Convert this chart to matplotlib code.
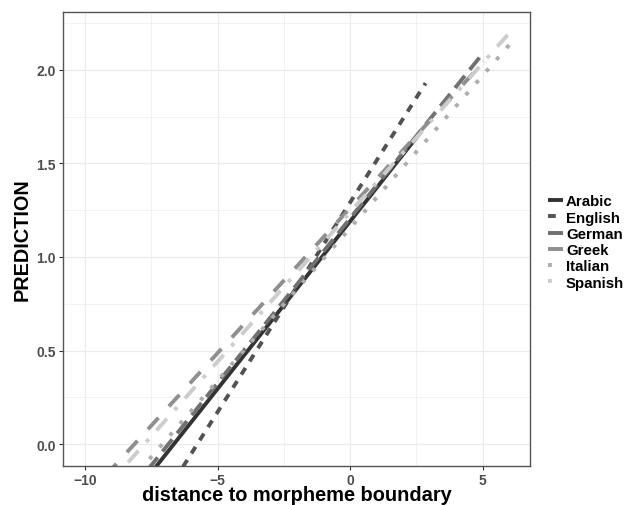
import matplotlib
matplotlib.use('Agg')
import matplotlib.pyplot as plt
from matplotlib.ticker import MultipleLocator

plt.rcParams['font.family'] = ['Liberation Sans', 'DejaVu Sans']

# Data: each language's fitted line, given by its two end points
languages = ['Arabic', 'English', 'German', 'Greek', 'Italian', 'Spanish']
x_start = [-10.0, -10.0, -10.0, -10.0, -10.0, -10.0]
y_start = [-0.600, -0.949, -0.554, -0.289, -0.476, -0.357]
x_end = [2.70, 2.85, 4.95, 5.05, 6.00, 6.00]
y_end = [1.673, 1.929, 2.077, 2.044, 2.132, 2.195]

x_ticks = [-10, -5, 0, 5]
x_tick_labels = ['\u221210', '\u22125', '0', '5']
y_ticks = [0.0, 0.5, 1.0, 1.5, 2.0]
y_tick_labels = ['0.0', '0.5', '1.0', '1.5', '2.0']

colors = ['#333333', '#525252', '#707070', '#8F8F8F', '#ADADAD', '#CCCCCC']
styles = ['-', (0, (2, 2)), (0, (4, 2)), (0, (4, 4)), (0, (1, 3)), (0, (1, 3, 4, 3))]

fig = plt.figure(figsize=(6.27, 5.06), dpi=100)
ax = fig.add_axes([63/627, 1 - 467/506, (530-63)/627, (467-13)/506])

for i, lang in enumerate(languages):
    ax.plot([x_start[i], x_end[i]], [y_start[i], y_end[i]], color=colors[i],
            linestyle=styles[i], linewidth=2.8, solid_capstyle='butt',
            dash_capstyle='butt', label=lang)

ax.set_xlim(-10.83, 6.79)
ax.set_ylim(-0.117, 2.309)

ax.set_xticks(x_ticks)
ax.set_xticklabels(x_tick_labels)
ax.set_yticks(y_ticks)
ax.set_yticklabels(y_tick_labels)
ax.xaxis.set_minor_locator(MultipleLocator(2.5))
ax.yaxis.set_minor_locator(MultipleLocator(0.25))

ax.grid(True, which='major', color='#EBEBEB', linewidth=0.9)
ax.grid(True, which='minor', color='#EBEBEB', linewidth=0.45)
ax.set_axisbelow(True)

ax.tick_params(which='major', length=3, width=0.8, color='#333333',
               labelsize=10, labelcolor='#4D4D4D', pad=2)
ax.tick_params(which='minor', length=0)
for lab in ax.get_xticklabels() + ax.get_yticklabels():
    lab.set_fontweight('bold')

for sp in ax.spines.values():
    sp.set_color('#555555')
    sp.set_linewidth(1.0)

fig.text(297/627, 1 - 496/506, 'distance to morpheme boundary', ha='center',
         va='center', fontsize=14.4, fontweight='bold')
fig.text(22/627, 1 - 240/506, 'PREDICTION', ha='center', va='center',
         rotation=90, fontsize=14.3, fontweight='bold')

leg = fig.legend(loc='center left', bbox_to_anchor=(548/627, 1 - 243/506),
                 frameon=False, handlelength=1.0, handletextpad=0.2,
                 labelspacing=0.15, borderaxespad=0, borderpad=0,
                 prop={'weight': 'bold', 'size': 10.8})

fig.savefig('out.png', dpi=100)
